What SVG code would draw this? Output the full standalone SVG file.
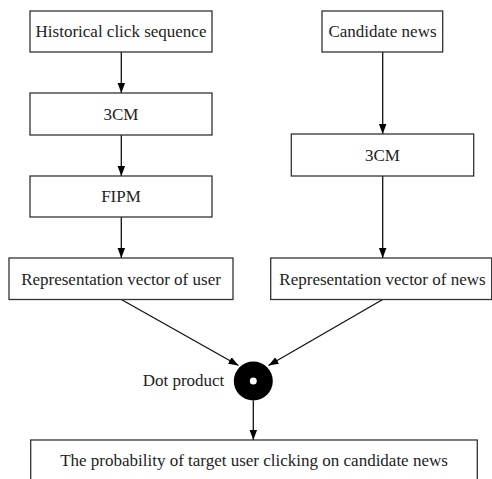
<svg xmlns="http://www.w3.org/2000/svg" width="492" height="479" viewBox="0 0 492 479">
<style>
.box{fill:#fff;stroke:#333;stroke-width:1.3}
.t{font-family:"Liberation Serif","Times New Roman",serif;font-size:17px;fill:#222;text-anchor:middle}
.c{stroke:#111;stroke-width:1.3;fill:none;marker-end:url(#ah)}
</style>
<defs>
<marker id="ah" markerUnits="userSpaceOnUse" markerWidth="10" markerHeight="14" refX="12" refY="4.5" orient="auto" viewBox="0 0 12 9">
<path d="M0,0 L12,4.5 L0,9 Z" fill="#000"/>
</marker>
</defs>
<rect width="492" height="479" fill="#fff"/>
<g id="connectors">
<line class="c" x1="121.3" y1="52" x2="121.3" y2="93"/>
<line class="c" x1="121.3" y1="135" x2="121.3" y2="176"/>
<line class="c" x1="121.3" y1="217" x2="121.3" y2="258"/>
<line class="c" x1="382.7" y1="52" x2="382.7" y2="134"/>
<line class="c" x1="382.7" y1="176" x2="382.7" y2="258"/>
<line class="c" x1="121.3" y1="299.5" x2="238.5" y2="365.5"/>
<line class="c" x1="382.7" y1="299.5" x2="268.5" y2="365.5"/>
<line class="c" x1="253.3" y1="400.5" x2="253.3" y2="440"/>
</g>
<g id="historical"><rect class="box" x="30" y="11" width="182" height="41"/><text class="t" x="121" y="37">Historical click sequence</text></g>
<g id="cm-left"><rect class="box" x="30" y="93" width="182" height="42"/><text class="t" x="121" y="120">3CM</text></g>
<g id="fipm"><rect class="box" x="30" y="176" width="182" height="41"/><text class="t" x="121" y="202">FIPM</text></g>
<g id="candidate"><rect class="box" x="322" y="11" width="120.7" height="41"/><text class="t" x="382.5" y="37">Candidate news</text></g>
<g id="cm-right"><rect class="box" x="291.3" y="134" width="182.4" height="42"/><text class="t" x="382.5" y="161">3CM</text></g>
<g id="user-vec"><rect class="box" x="9" y="258" width="224" height="41.5"/><text class="t" x="121" y="285">Representation vector of user</text></g>
<g id="news-vec"><rect class="box" x="270.7" y="258" width="221" height="41.5"/><text class="t" x="382.5" y="285">Representation vector of news</text></g>
<g id="dot">
<circle cx="253.3" cy="381" r="19.5" fill="#000"/>
<circle cx="253.3" cy="381" r="3.5" fill="#fff"/>
<text class="t" x="183.5" y="386">Dot product</text>
</g>
<g id="probability"><rect class="box" x="30.7" y="440" width="446.6" height="60"/><text class="t" x="254" y="466">The probability of target user clicking on candidate news</text></g>
</svg>
